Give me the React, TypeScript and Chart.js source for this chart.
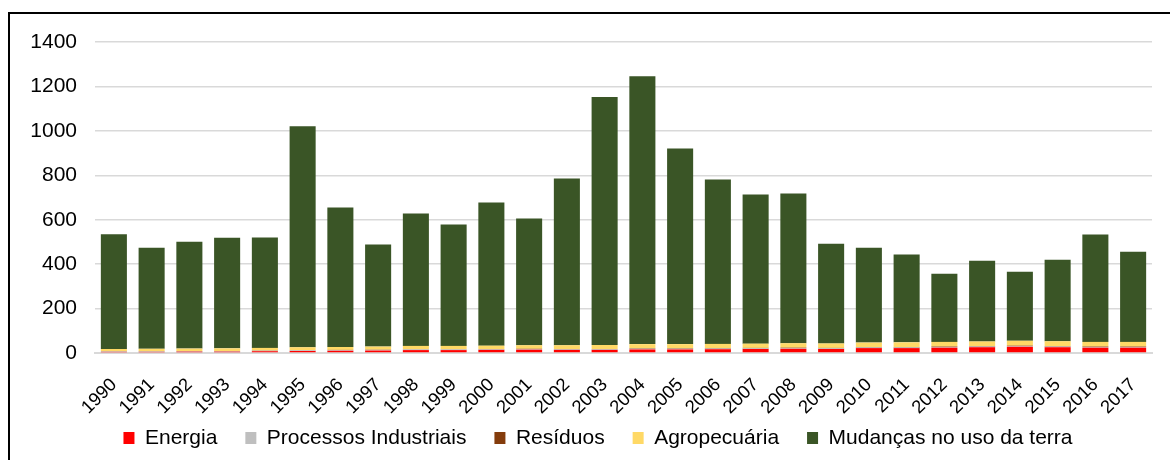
import React, { useEffect, useRef } from "react";
import { Chart, registerables } from "chart.js";

Chart.register(...registerables);

const years = [
  "1990", "1991", "1992", "1993", "1994", "1995", "1996", "1997", "1998", "1999",
  "2000", "2001", "2002", "2003", "2004", "2005", "2006", "2007", "2008", "2009",
  "2010", "2011", "2012", "2013", "2014", "2015", "2016", "2017",
];

const energia = [5, 5, 6, 6, 8, 9, 10, 11, 13, 13, 14, 15, 14, 14, 16, 16, 17, 18, 19, 18, 22, 22, 24, 26, 28, 26, 24, 24];
const processos = [2, 2, 2, 2, 2, 3, 3, 3, 3, 3, 3, 3, 3, 3, 3, 3, 3, 3, 3, 3, 3, 3, 3, 3, 3, 3, 3, 3];
const residuos = [1, 1, 1, 1, 1, 1, 1, 1, 1, 1, 1, 1, 1, 1, 2, 2, 2, 2, 2, 2, 2, 2, 2, 2, 2, 2, 2, 2];
const agropecuaria = [10, 11, 11, 12, 12, 13, 13, 14, 15, 15, 15, 16, 17, 18, 19, 19, 19, 19, 20, 20, 20, 21, 21, 21, 22, 22, 21, 21];
const mudancas = [517, 455, 481, 498, 497, 995, 628, 459, 596, 546, 644, 570, 751, 1116, 1206, 881, 740, 672, 674, 449, 427, 395, 307, 363, 311, 367, 483, 406];

const yTicks = [0, 200, 400, 600, 800, 1000, 1200, 1400];

const FONT = "'Liberation Sans', Arial, sans-serif";
const CANVAS_H = 490;
const LEGEND_FONT = 21;
const LEGEND_PAD = 28;
const LEGEND_TEXT_Y = 438;
const LEGEND_SHIFT_X = 12;

const legendShift = {
  id: "legendShift",
  beforeDraw(chart: any) {
    const lg = chart.legend;
    if (!lg) return;
    const top = LEGEND_TEXT_Y - LEGEND_PAD - LEGEND_FONT / 2;
    const h = lg.bottom - lg.top;
    lg.top = top;
    lg.bottom = top + h;
    if (!lg._shiftedX) {
      lg.left += LEGEND_SHIFT_X;
      lg.right += LEGEND_SHIFT_X;
      lg._shiftedX = true;
    }
  },
};

export default function App() {
  const canvasRef = useRef<HTMLCanvasElement | null>(null);

  useEffect(() => {
    const canvas = canvasRef.current;
    if (!canvas) return;
    const chart = new Chart(canvas, {
      type: "bar",
      data: {
        labels: years,
        datasets: [
          { label: "Energia", data: energia, backgroundColor: "#ff0000" },
          { label: "Processos Industriais", data: processos, backgroundColor: "#bfbfbf" },
          { label: "Resíduos", data: residuos, backgroundColor: "#843c0c" },
          { label: "Agropecuária", data: agropecuaria, backgroundColor: "#ffd966" },
          { label: "Mudanças no uso da terra", data: mudancas, backgroundColor: "#3a5526" },
        ],
      },
      plugins: [legendShift],
      options: {
        animation: false,
        responsive: false,
        maintainAspectRatio: false,
        datasets: {
          bar: { categoryPercentage: 1, barPercentage: 0.69 },
        },
        layout: { padding: { left: 20, right: 18, top: 42, bottom: 14 } },
        plugins: {
          tooltip: { enabled: false },
          legend: {
            position: "bottom",
            labels: {
              color: "#000",
              font: { family: FONT, size: LEGEND_FONT },
              boxWidth: 11,
              boxHeight: 12,
              padding: LEGEND_PAD,
            },
          },
        },
        scales: {
          x: {
            stacked: true,
            grid: { display: false },
            border: { display: true, color: "#d9d9d9", width: 2 },
            afterFit: (scale: any) => {
              scale.height = 64;
            },
            ticks: {
              color: "#000",
              font: { family: FONT, size: 18.5 },
              minRotation: 45,
              maxRotation: 45,
              padding: 13,
              autoSkip: false,
            },
          },
          y: {
            stacked: true,
            min: 0,
            max: 1400,
            afterBuildTicks: (scale: any) => {
              scale.ticks = yTicks.map((v) => ({ value: v }));
            },
            afterFit: (scale: any) => {
              scale.width = 75;
            },
            grid: { color: "#d9d9d9", lineWidth: 1.5, drawTicks: false },
            border: { display: false },
            ticks: {
              color: "#000",
              font: { family: FONT, size: 21 },
              padding: 18,
              callback: (v: any) => String(v),
            },
          },
        },
      },
    });
    return () => chart.destroy();
  }, []);

  return (
    <div style={{ position: "fixed", left: 0, top: 0, width: 1170, height: 460, background: "#fff", overflow: "hidden" }}>
      <div
        style={{
          position: "absolute",
          left: 8,
          top: 12,
          width: 1170,
          height: 460,
          borderLeft: "2px solid #000",
          borderTop: "2px solid #000",
        }}
      />
      <canvas
        ref={canvasRef}
        width={1170}
        height={CANVAS_H}
        style={{ position: "absolute", left: 0, top: 0, width: 1170, height: CANVAS_H }}
      />
    </div>
  );
}
